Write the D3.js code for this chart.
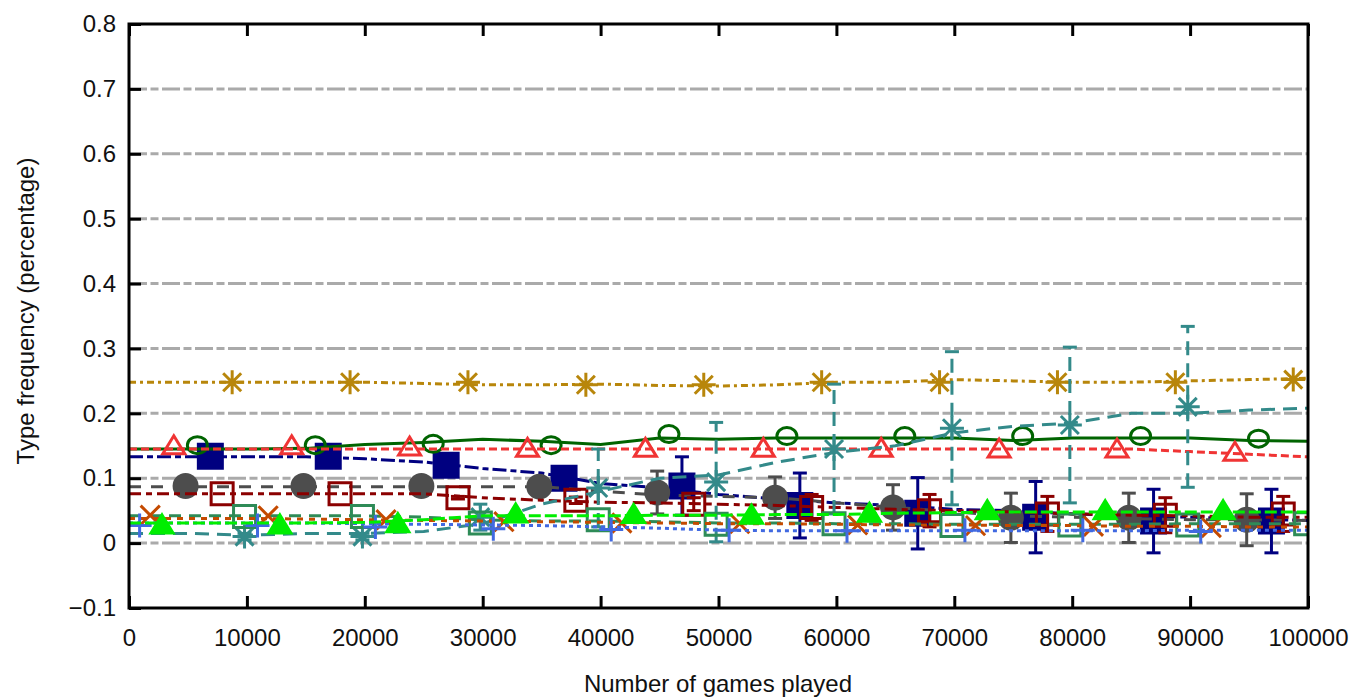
<!DOCTYPE html>
<html><head><meta charset="utf-8">
<script src="https://cdn.jsdelivr.net/npm/d3@7"></script>
<style>
body{margin:0;background:#fff}
svg{display:block}
text{font-family:"Liberation Sans",Arial,Helvetica,sans-serif;fill:#111}
</style></head>
<body><svg id="c" width="1350" height="699"></svg>
<script>
// ---------- data ----------
const games = [0,5000,10000,15000,20000,25000,30000,35000,40000,45000,50000,55000,60000,65000,70000,75000,80000,85000,90000,95000,100000];
const xTicks = [0,10000,20000,30000,40000,50000,60000,70000,80000,90000,100000];
const yTicks = [-0.1,0,0.1,0.2,0.3,0.4,0.5,0.6,0.7,0.8];
const gridValues = [0,0.1,0.2,0.3,0.4,0.5,0.6,0.7];

const goldValues = [0.248,0.248,0.248,0.248,0.248,0.246,0.244,0.244,0.245,0.243,0.242,0.244,0.248,0.248,0.252,0.25,0.248,0.248,0.25,0.252,0.254];
const goldMarkerGames = [8750,18750,28750,38750,48750,58750,68750,78750,88750,98750];
const goldMarkerValues = [0.248,0.248,0.248,0.244,0.244,0.248,0.248,0.248,0.248,0.252];

const greenValues = [0.145,0.145,0.145,0.146,0.152,0.155,0.16,0.157,0.152,0.162,0.16,0.162,0.162,0.162,0.162,0.158,0.162,0.162,0.162,0.158,0.157];
const greenMarkerGames = [5800,15800,25800,35800,45800,55800,65800,75800,85800,95800];
const greenMarkerValues = [0.151,0.151,0.153,0.151,0.168,0.165,0.165,0.165,0.165,0.161];

const redValues = [0.145,0.145,0.145,0.145,0.145,0.145,0.145,0.145,0.145,0.145,0.145,0.145,0.145,0.145,0.145,0.145,0.145,0.145,0.141,0.137,0.133];
const redMarkerGames = [3800,13800,23800,33800,43800,53800,63800,73800,83800,93800];
const redMarkerValues = [0.15,0.15,0.148,0.146,0.146,0.146,0.146,0.145,0.145,0.14];

const navyValues = [0.133,0.133,0.133,0.133,0.13,0.125,0.115,0.108,0.092,0.085,0.075,0.068,0.062,0.058,0.052,0.05,0.045,0.042,0.04,0.037,0.035];
const navyMarkerGames = [6900,16900,26900,36900,46900,56900,66900,76900,86900,96900];
const navyMarkerValues = [0.134,0.134,0.12,0.1,0.088,0.058,0.046,0.04,0.034,0.034];
const navyErrors = [0.003,0.003,0.006,0.012,0.045,0.05,0.055,0.055,0.049,0.049];

const grayValues = [0.087,0.087,0.087,0.087,0.087,0.087,0.087,0.087,0.08,0.074,0.072,0.07,0.062,0.055,0.048,0.042,0.04,0.038,0.036,0.036,0.035];
const grayMarkerGames = [4800,14800,24800,34800,44800,54800,64800,74800,84800,94800];
const grayMarkerValues = [0.088,0.088,0.088,0.087,0.078,0.07,0.055,0.039,0.039,0.036];
const grayErrors = [0.002,0.002,0.003,0.004,0.033,0.032,0.035,0.038,0.038,0.04];

const darkRedValues = [0.076,0.076,0.076,0.076,0.076,0.076,0.07,0.066,0.063,0.062,0.06,0.058,0.055,0.052,0.05,0.048,0.045,0.043,0.042,0.04,0.04];
const darkRedMarkerGames = [7900,17900,27900,37900,47900,57900,67900,77900,87900,97900];
const darkRedMarkerValues = [0.076,0.076,0.07,0.066,0.06,0.055,0.05,0.045,0.043,0.045];
const darkRedErrors = [0,0,0.002,0.005,0.01,0.02,0.025,0.027,0.027,0.027];

const seaGreenValues = [0.042,0.042,0.042,0.042,0.042,0.04,0.036,0.034,0.034,0.033,0.031,0.031,0.03,0.03,0.029,0.029,0.029,0.029,0.03,0.03,0.03];
const seaGreenMarkerGames = [9800,19800,29800,39800,49800,59800,69800,79800,89800,99800];
const seaGreenMarkerValues = [0.041,0.041,0.031,0.036,0.029,0.03,0.027,0.028,0.028,0.03];

const limeValues = [0.031,0.031,0.031,0.031,0.032,0.036,0.042,0.042,0.042,0.043,0.043,0.044,0.044,0.046,0.047,0.048,0.048,0.048,0.048,0.048,0.048];
const limeMarkerGames = [2800,12800,22800,32800,42800,52800,62800,72800,82800,92800];
const limeMarkerValues = [0.028,0.028,0.03,0.045,0.044,0.043,0.046,0.05,0.05,0.05];

const blueValues = [0.031,0.031,0.031,0.031,0.03,0.029,0.028,0.027,0.025,0.023,0.02,0.019,0.019,0.019,0.019,0.019,0.019,0.019,0.02,0.02,0.02];
const blueMarkerGames = [900,10900,20900,30900,40900,50900,60900,70900,80900,90900];
const blueMarkerValues = [0.027,0.027,0.025,0.022,0.021,0.02,0.019,0.02,0.02,0.018];

const orangeValues = [0.038,0.038,0.038,0.037,0.036,0.035,0.034,0.033,0.032,0.031,0.03,0.03,0.029,0.028,0.028,0.027,0.027,0.026,0.026,0.025,0.025];
const orangeMarkerGames = [1800,11800,21800,31800,41800,51800,61800,71800,81800,91800];
const orangeMarkerValues = [0.043,0.042,0.036,0.033,0.031,0.03,0.028,0.027,0.026,0.024];

const tealValues = [0.015,0.015,0.012,0.015,0.015,0.018,0.03,0.06,0.08,0.1,0.105,0.125,0.14,0.15,0.17,0.18,0.185,0.2,0.2,0.205,0.208];
const tealMarkerGames = [9800,19800,29800,39800,49800,59800,69800,79800,89800];
const tealMarkerValues = [0.01,0.01,0.04,0.085,0.094,0.145,0.177,0.182,0.21];
const tealErrors = [0.005,0.005,0.02,0.06,0.092,0.1,0.118,0.12,0.124];

// ---------- series table (styles) ----------
const series = [
  {values: goldValues, mg: goldMarkerGames, mv: goldMarkerValues, color:"#b8860b", dash:"7,4,3,4", marker:"star"},
  {values: navyValues, mg: navyMarkerGames, mv: navyMarkerValues, err: navyErrors, color:"#000080", dash:"14,4,6,4", marker:"fsquare", errDash:null},
  {values: grayValues, mg: grayMarkerGames, mv: grayMarkerValues, err: grayErrors, color:"#4d4d4d", dash:"12,10", marker:"fcircle", errDash:null},
  {values: darkRedValues, mg: darkRedMarkerGames, mv: darkRedMarkerValues, err: darkRedErrors, color:"#8b0000", dash:"12,5,6,5", marker:"osquare", errDash:null},
  {values: greenValues, mg: greenMarkerGames, mv: greenMarkerValues, color:"#006400", dash:null, marker:"ocircle"},
  {values: redValues, mg: redMarkerGames, mv: redMarkerValues, color:"#f03434", dash:"8,4", marker:"otri"},
  {values: tealValues, mg: tealMarkerGames, mv: tealMarkerValues, err: tealErrors, color:"#338a8a", dash:"14,8", marker:"star", errDash:"14,8"},
  {values: seaGreenValues, mg: seaGreenMarkerGames, mv: seaGreenMarkerValues, color:"#2e8b57", dash:"12,8", marker:"osquare"},
  {values: orangeValues, mg: orangeMarkerGames, mv: orangeMarkerValues, color:"#c44a00", dash:"6,6", marker:"cross"},
  {values: blueValues, mg: blueMarkerGames, mv: blueMarkerValues, color:"#4169e1", dash:"4,4", marker:"plus"},
  {values: limeValues, mg: limeMarkerGames, mv: limeMarkerValues, color:"#00ee00", dash:"12,4", marker:"ftri"}
];

// ---------- layout ----------
const L = 129, R = 1308, T = 24, B = 608;
const svg = d3.select("#c");
const x = d3.scaleLinear().domain([0,100000]).range([L,R]);
const y = d3.scaleLinear().domain([-0.1,0.8]).range([B,T]);

svg.append("defs").append("clipPath").attr("id","clip")
  .append("rect").attr("x",L).attr("y",T).attr("width",R-L).attr("height",B-T);

// grid
svg.append("g").selectAll("line").data(gridValues).join("line")
  .attr("x1",L).attr("x2",R).attr("y1",d=>y(d)).attr("y2",d=>y(d))
  .attr("stroke","#aaaaaa").attr("stroke-width",3).attr("stroke-dasharray","18,3.5,8,3.5");

const plot = svg.append("g").attr("clip-path","url(#clip)");

const line = d3.line().x((d,i)=>x(games[i])).y(d=>y(d));

function markerPath(type, cx, cy){
  const p = d3.path();
  const s = 12;
  if(type==="star"){
    p.moveTo(cx-s,cy); p.lineTo(cx+s,cy);
    p.moveTo(cx,cy-s); p.lineTo(cx,cy+s);
    p.moveTo(cx-s*0.75,cy-s*0.75); p.lineTo(cx+s*0.75,cy+s*0.75);
    p.moveTo(cx-s*0.75,cy+s*0.75); p.lineTo(cx+s*0.75,cy-s*0.75);
  } else if(type==="plus"){
    p.moveTo(cx-s,cy); p.lineTo(cx+s,cy);
    p.moveTo(cx,cy-s); p.lineTo(cx,cy+s);
  } else if(type==="cross"){
    p.moveTo(cx-s*0.8,cy-s*0.8); p.lineTo(cx+s*0.8,cy+s*0.8);
    p.moveTo(cx-s*0.8,cy+s*0.8); p.lineTo(cx+s*0.8,cy-s*0.8);
  } else if(type==="osquare"||type==="fsquare"){
    const h = type==="fsquare"?12:11;
    p.rect(cx-h,cy-h,2*h,2*h);
  } else if(type==="otri"||type==="ftri"){
    const w = 11, h = 10;
    p.moveTo(cx,cy-h); p.lineTo(cx+w,cy+h*0.8); p.lineTo(cx-w,cy+h*0.8); p.closePath();
  }
  return p.toString();
}

series.forEach(s=>{
  const g = plot.append("g");
  g.append("path").attr("d",line(s.values)).attr("fill","none")
    .attr("stroke",s.color).attr("stroke-width",3)
    .attr("stroke-dasharray",s.dash||null).attr("stroke-linejoin","miter");
  if(s.err){
    s.mg.forEach((gm,i)=>{
      const e = s.err[i]; if(!e) return;
      const cx = x(gm), y1 = y(s.mv[i]-e), y2 = y(s.mv[i]+e);
      g.append("line").attr("x1",cx).attr("x2",cx).attr("y1",y1).attr("y2",y2)
        .attr("stroke",s.color).attr("stroke-width",3).attr("stroke-dasharray",s.errDash||null);
      [y1,y2].forEach(yy=>g.append("line").attr("x1",cx-7).attr("x2",cx+7).attr("y1",yy).attr("y2",yy)
        .attr("stroke",s.color).attr("stroke-width",3));
    });
  }
  s.mg.forEach((gm,i)=>{
    const cx = x(gm), cy = y(s.mv[i]);
    if(s.marker==="fcircle"){
      g.append("circle").attr("cx",cx).attr("cy",cy).attr("r",13).attr("fill",s.color);
    } else if(s.marker==="ocircle"){
      g.append("ellipse").attr("cx",cx).attr("cy",cy).attr("rx",10).attr("ry",8.5)
        .attr("fill","none").attr("stroke",s.color).attr("stroke-width",3);
    } else {
      const filled = s.marker==="fsquare"||s.marker==="ftri";
      g.append("path").attr("d",markerPath(s.marker,cx,cy))
        .attr("fill",filled?s.color:"none").attr("stroke",s.color).attr("stroke-width",3);
    }
  });
});

// axes
const fmtY = d=>d3.format(".1f")(d);
const yAxis = d3.axisLeft(y).tickValues(yTicks).tickFormat(d=>d===0?"0":fmtY(d)).tickSizeInner(-12).tickSizeOuter(0).tickPadding(13);
const gy = svg.append("g").attr("transform",`translate(${L},0)`).call(yAxis);
const xAxis = d3.axisBottom(x).tickValues(xTicks).tickFormat(d=>String(d)).tickSizeInner(-12).tickSizeOuter(0).tickPadding(21);
const gx = svg.append("g").attr("transform",`translate(0,${B})`).call(xAxis);
const xTop = d3.axisTop(x).tickValues(xTicks).tickFormat("").tickSizeInner(-12).tickSizeOuter(0);
const gt = svg.append("g").attr("transform",`translate(0,${T})`).call(xTop);
[gy,gx,gt].forEach(g=>{
  g.select(".domain").remove();
  g.selectAll(".tick line").attr("stroke","#000").attr("stroke-width",3);
  g.selectAll("text").attr("font-size",24).attr("font-family",null).attr("fill","#111");
});

// frame
svg.append("rect").attr("x",L).attr("y",T).attr("width",R-L).attr("height",B-T)
  .attr("fill","none").attr("stroke","#000").attr("stroke-width",3);

// titles
svg.append("text").attr("x",718).attr("y",692).attr("text-anchor","middle").attr("font-size",24)
  .text("Number of games played");
svg.append("text").attr("transform","translate(34,311) rotate(-90)").attr("text-anchor","middle")
  .attr("font-size",24).text("Type frequency (percentage)");
</script></body></html>
